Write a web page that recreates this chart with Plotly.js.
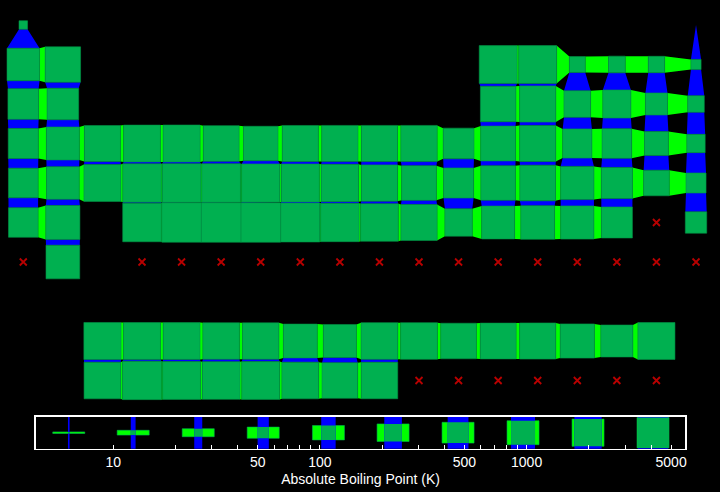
<!DOCTYPE html>
<html><head><meta charset="utf-8">
<script src="https://cdn.plot.ly/plotly-3.0.1.min.js"></script>
<style>html,body{margin:0;padding:0;background:#000;}</style>
</head><body><div id="chart" style="width:720px;height:492px;"></div>
<script>
const symbols = ['H','He','Li','Be','B','C','N','O','F','Ne','Na','Mg','Al','Si','P','S','Cl','Ar',
 'K','Ca','Sc','Ti','V','Cr','Mn','Fe','Co','Ni','Cu','Zn','Ga','Ge','As','Se','Br','Kr',
 'Rb','Sr','Y','Zr','Nb','Mo','Tc','Ru','Rh','Pd','Ag','Cd','In','Sn','Sb','Te','I','Xe',
 'Cs','Ba','La','Ce','Pr','Nd','Pm','Sm','Eu','Gd','Tb','Dy','Ho','Er','Tm','Yb','Lu',
 'Hf','Ta','W','Re','Os','Ir','Pt','Au','Hg','Tl','Pb','Bi','Po','At','Rn',
 'Fr','Ra','Ac','Th','Pa','U','Np','Pu','Am','Cm','Bk','Cf','Es','Fm','Md','No','Lr',
 'Rf','Db','Sg','Bh','Hs','Mt','Ds','Rg','Cn','Nh','Fl','Mc','Lv','Ts','Og'];
const tableRow = [1,1, 2,2,2,2,2,2,2,2, 3,3,3,3,3,3,3,3,
 4,4,4,4,4,4,4,4,4,4,4,4,4,4,4,4,4,4,
 5,5,5,5,5,5,5,5,5,5,5,5,5,5,5,5,5,5,
 6,6, 9,9,9,9,9,9,9,9,9,9,9,9,9,9,9,
 6,6,6,6,6,6,6,6,6,6,6,6,6,6,6,
 7,7, 10,10,10,10,10,10,10,10,10,10,10,10,10,10,10,
 7,7,7,7,7,7,7,7,7,7,7,7,7,7,7];
const tableCol = [1,18, 1,2,13,14,15,16,17,18, 1,2,13,14,15,16,17,18,
 1,2,3,4,5,6,7,8,9,10,11,12,13,14,15,16,17,18,
 1,2,3,4,5,6,7,8,9,10,11,12,13,14,15,16,17,18,
 1,2, 3,4,5,6,7,8,9,10,11,12,13,14,15,16,17,
 4,5,6,7,8,9,10,11,12,13,14,15,16,17,18,
 1,2, 3,4,5,6,7,8,9,10,11,12,13,14,15,16,17,
 4,5,6,7,8,9,10,11,12,13,14,15,16,17,18];
const boilingK = [20, 4.22, 1615, 2743, 4273, 4300, 77, 90, 85, 27,
 1156, 1363, 2792, 3173, 553, 718, 239, 87,
 1032, 1757, 3103, 3560, 3680, 2944, 2334, 3134, 3200, 3186, 3200, 1180, 2477, 3093, 887, 958, 332, 120,
 961, 1655, 3618, 4682, 5017, 4912, 4538, 4423, 3968, 3236, 2435, 1040, 2345, 2875, 1860, 1261, 457, 165,
 944, 2143, 3737, 3633, 3563, 3373, 3273, 2076, 1800, 3523, 3503, 2840, 2973, 3141, 2223, 1469, 3675,
 4876, 5731, 5828, 5869, 5285, 4701, 4098, 3129, 630, 1746, 2022, 1837, 1235, null, 211,
 null, 2010, 3473, 5093, 4273, 4200, 4273, 3503, 2880, 3383, null, null, null, null, null, null, null,
 null, null, null, null, null, null, null, null, null, null, null, null, null, null, null];
const legendValues = [6.1, 12.5, 25.8, 53.2, 110, 226, 466, 961, 1982, 4088];
const legendTickVals = [10,20,30,40,50,60,70,80,90,100,200,300,400,500,600,700,800,900,1000,2000,3000,4000,5000];
const legendTickText = ['10','','','','50','','','','','100','','','','500','','','','','1000','','','','5000'];

const COL_DARK = '#00b050', COL_BRIGHT = '#00ff00', COL_BLUE = '#0000ff', COL_MISS = '#b80000';

const known = boilingK.filter(v => v != null);
const lmin = Math.log10(Math.min(...known)), lmax = Math.log10(Math.max(...known));
const frac = v => (Math.log10(v) - lmin) / (lmax - lmin);

const lookup = {};
symbols.forEach((s, i) => { lookup[tableRow[i] + ',' + tableCol[i]] = i; });

function poly(t, xs, ys) {
  xs.forEach((x, k) => { t.x.push(x); t.y.push(ys[k]); });
  t.x.push(xs[0]); t.y.push(ys[0]); t.x.push(null); t.y.push(null);
}
const sq = {x: [], y: []}, hz = {x: [], y: []}, vt = {x: [], y: []}, miss = {x: [], y: []};
symbols.forEach((s, i) => {
  const r = tableRow[i], c = tableCol[i], v = boilingK[i];
  if (v == null) { miss.x.push(c); miss.y.push(r); return; }
  const a = frac(v) / 2;
  poly(sq, [c - a, c + a, c + a, c - a], [r - a, r - a, r + a, r + a]);
  const jr = lookup[r + ',' + (c + 1)];
  if (jr !== undefined && boilingK[jr] != null) {
    const b = frac(boilingK[jr]) / 2;
    poly(hz, [c + a, c + 1 - b, c + 1 - b, c + a], [r - a, r - b, r + b, r + a]);
  }
  const jd = lookup[(r + 1) + ',' + c];
  if (jd !== undefined && boilingK[jd] != null) {
    const b = frac(boilingK[jd]) / 2;
    poly(vt, [c - a, c + a, c + b, c - b], [r + a, r + a, r + 1 - b, r + 1 - b]);
  }
});

// legend geometry
const W = 720, H = 492;
const lgX = [0.04958, 0.95208], lgY = [0.08801, 0.15305];
const pxPerDec = (lgX[1] - lgX[0]) * W / (lmax - lmin);
const cellPx = (lgY[1] - lgY[0]) * H;
const hDec = (cellPx / 2) / pxPerDec;
const lh = {x: [], y: []}, lv = {x: [], y: []}, lc = {x: [], y: []};
legendValues.forEach(v => {
  const s = frac(v);
  const f1 = Math.pow(10, hDec), f2 = Math.pow(10, hDec * s);
  poly(lh, [v / f1, v * f1, v * f1, v / f1], [-s / 2, -s / 2, s / 2, s / 2]);
  poly(lv, [v / f2, v * f2, v * f2, v / f2], [-0.6, -0.6, 0.6, 0.6]);
  poly(lc, [v / f2, v * f2, v * f2, v / f2], [-s / 2, -s / 2, s / 2, s / 2]);
});

function fillTrace(t, color, xa, ya, edge) {
  return {x: t.x, y: t.y, xaxis: xa, yaxis: ya, type: 'scatter', mode: 'lines', fill: 'toself',
    fillcolor: color, line: {width: edge ? 0.6 : 0, color: edge || color}, hoverinfo: 'skip'};
}
const traces = [
  fillTrace(hz, COL_BRIGHT, 'x', 'y'),
  fillTrace(vt, COL_BLUE, 'x', 'y'),
  fillTrace(sq, COL_DARK, 'x', 'y', '#009446'),
  {x: miss.x, y: miss.y, xaxis: 'x', yaxis: 'y', type: 'scatter', mode: 'markers',
   marker: {symbol: 'x-thin', size: 7, line: {width: 1.8, color: COL_MISS}}, hoverinfo: 'skip'},
  fillTrace(lh, COL_BRIGHT, 'x2', 'y2', '#00b050'),
  fillTrace(lv, COL_BLUE, 'x2', 'y2'),
  fillTrace(lc, COL_DARK, 'x2', 'y2')
];

const layout = {
  width: W, height: H, margin: {l: 0, r: 0, t: 0, b: 0},
  paper_bgcolor: '#000', plot_bgcolor: '#000', showlegend: false,
  font: {family: 'Liberation Sans, Arial, sans-serif', color: '#fff'},
  xaxis: {domain: [0.00486, 0.99417], range: [0.5, 18.5], visible: false},
  yaxis: {domain: [0.18648, 0.98933], range: [10.5, 0.5], visible: false},
  xaxis2: {anchor: 'y2', domain: lgX, type: 'log', range: [lmin, lmax],
    tickmode: 'array', tickvals: legendTickVals, ticktext: legendTickText,
    ticks: 'inside', ticklen: 4, tickwidth: 1, tickcolor: '#fff',
    showline: true, mirror: true, linecolor: '#fff', linewidth: 1.5,
    showgrid: false, zeroline: false,
    tickfont: {size: 14, color: '#fff'},
    title: {text: 'Absolute Boiling Point (K)', font: {size: 14, color: '#fff'}, standoff: 5}},
  yaxis2: {anchor: 'x2', domain: lgY, range: [-0.5, 0.5],
    showline: true, mirror: true, linecolor: '#fff', linewidth: 1.5,
    showticklabels: false, ticks: '', showgrid: false, zeroline: false}
};
Plotly.newPlot('chart', traces, layout, {staticPlot: true, displayModeBar: false});
</script></body></html>
